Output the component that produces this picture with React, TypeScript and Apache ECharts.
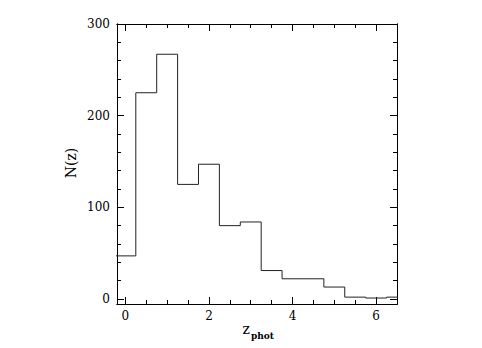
import React, { useEffect, useRef } from "react";
import * as echarts from "echarts";

const binCenters = [0, 0.5, 1, 1.5, 2, 2.5, 3, 3.5, 4, 4.5, 5, 5.5, 6, 6.5];
const counts = [47, 225, 267, 125, 147, 80, 84, 31, 22, 22, 13, 2, 1, 2];
const binHalfWidth = 0.25;
const xMajor = [0, 2, 4, 6];
const xMinor = [0, 0.5, 1, 1.5, 2, 2.5, 3, 3.5, 4, 4.5, 5, 5.5, 6, 6.5];
const yMajor = [0, 100, 200, 300];
const yMinor = [0, 20, 40, 60, 80, 100, 120, 140, 160, 180, 200, 220, 240, 260, 280, 300];

const FONT = "DejaVu Serif";

export default function App() {
  const ref = useRef<HTMLDivElement>(null);
  useEffect(() => {
    document.body.style.margin = "0";
    if (!ref.current) return;
    const chart = echarts.init(ref.current, null, { renderer: "svg" });
    const data: number[][] = binCenters.map((c, i) => [c - binHalfWidth, counts[i]]);
    data.push([binCenters[binCenters.length - 1] + binHalfWidth, counts[counts.length - 1]]);

    const lineStyle = { color: "#000", width: 1 };
    const mkX = (pos: string, major: boolean, labels: boolean) => ({
      type: "value",
      position: pos,
      min: -0.2,
      max: 6.5,
      axisLine: { show: true, onZero: false, lineStyle },
      axisTick: {
        show: true,
        inside: true,
        length: major ? 7 : 4,
        customValues: major ? xMajor : xMinor,
        lineStyle,
      },
      axisLabel: labels
        ? { show: true, customValues: xMajor, color: "#000", fontFamily: FONT, fontSize: 12, margin: 6 }
        : { show: false },
      splitLine: { show: false },
    });
    const mkY = (pos: string, major: boolean, labels: boolean) => ({
      type: "value",
      position: pos,
      min: -5.5,
      max: 300,
      axisLine: { show: true, onZero: false, lineStyle },
      axisTick: {
        show: true,
        inside: true,
        length: major ? 7 : 4,
        customValues: major ? yMajor : yMinor,
        lineStyle,
      },
      axisLabel: labels
        ? { show: true, customValues: yMajor, color: "#000", fontFamily: FONT, fontSize: 12, margin: 7 }
        : { show: false },
      splitLine: { show: false },
    });

    chart.setOption({
      animation: false,
      backgroundColor: "#fff",
      grid: { left: 117, right: 85, top: 24, bottom: 44, containLabel: false },
      xAxis: [
        mkX("bottom", true, true),
        mkX("bottom", false, false),
        mkX("top", true, false),
        mkX("top", false, false),
      ],
      yAxis: [
        mkY("left", true, true),
        mkY("left", false, false),
        mkY("right", true, false),
        mkY("right", false, false),
      ],
      series: [
        {
          type: "line",
          step: "end",
          data,
          showSymbol: false,
          symbol: "none",
          clip: true,
          lineStyle: { color: "#222", width: 1 },
        },
      ],
      graphic: [
        {
          type: "text",
          x: 71,
          y: 163,
          rotation: Math.PI / 2,
          style: {
            text: "N(z)",
            fontFamily: FONT,
            fontSize: 14,
            fill: "#000",
            align: "center",
            verticalAlign: "middle",
          },
        },
        {
          type: "text",
          x: 250,
          y: 336,
          style: {
            text: "z",
            fontFamily: FONT,
            fontSize: 14,
            fill: "#000",
            align: "right",
            verticalAlign: "bottom",
          },
        },
        {
          type: "text",
          x: 251,
          y: 340,
          style: {
            text: "phot",
            fontFamily: FONT,
            fontSize: 9,
            fontWeight: "bold",
            fill: "#000",
            align: "left",
            verticalAlign: "bottom",
          },
        },
      ],
    });
    return () => chart.dispose();
  }, []);
  return <div ref={ref} style={{ width: 482, height: 348 }} />;
}
